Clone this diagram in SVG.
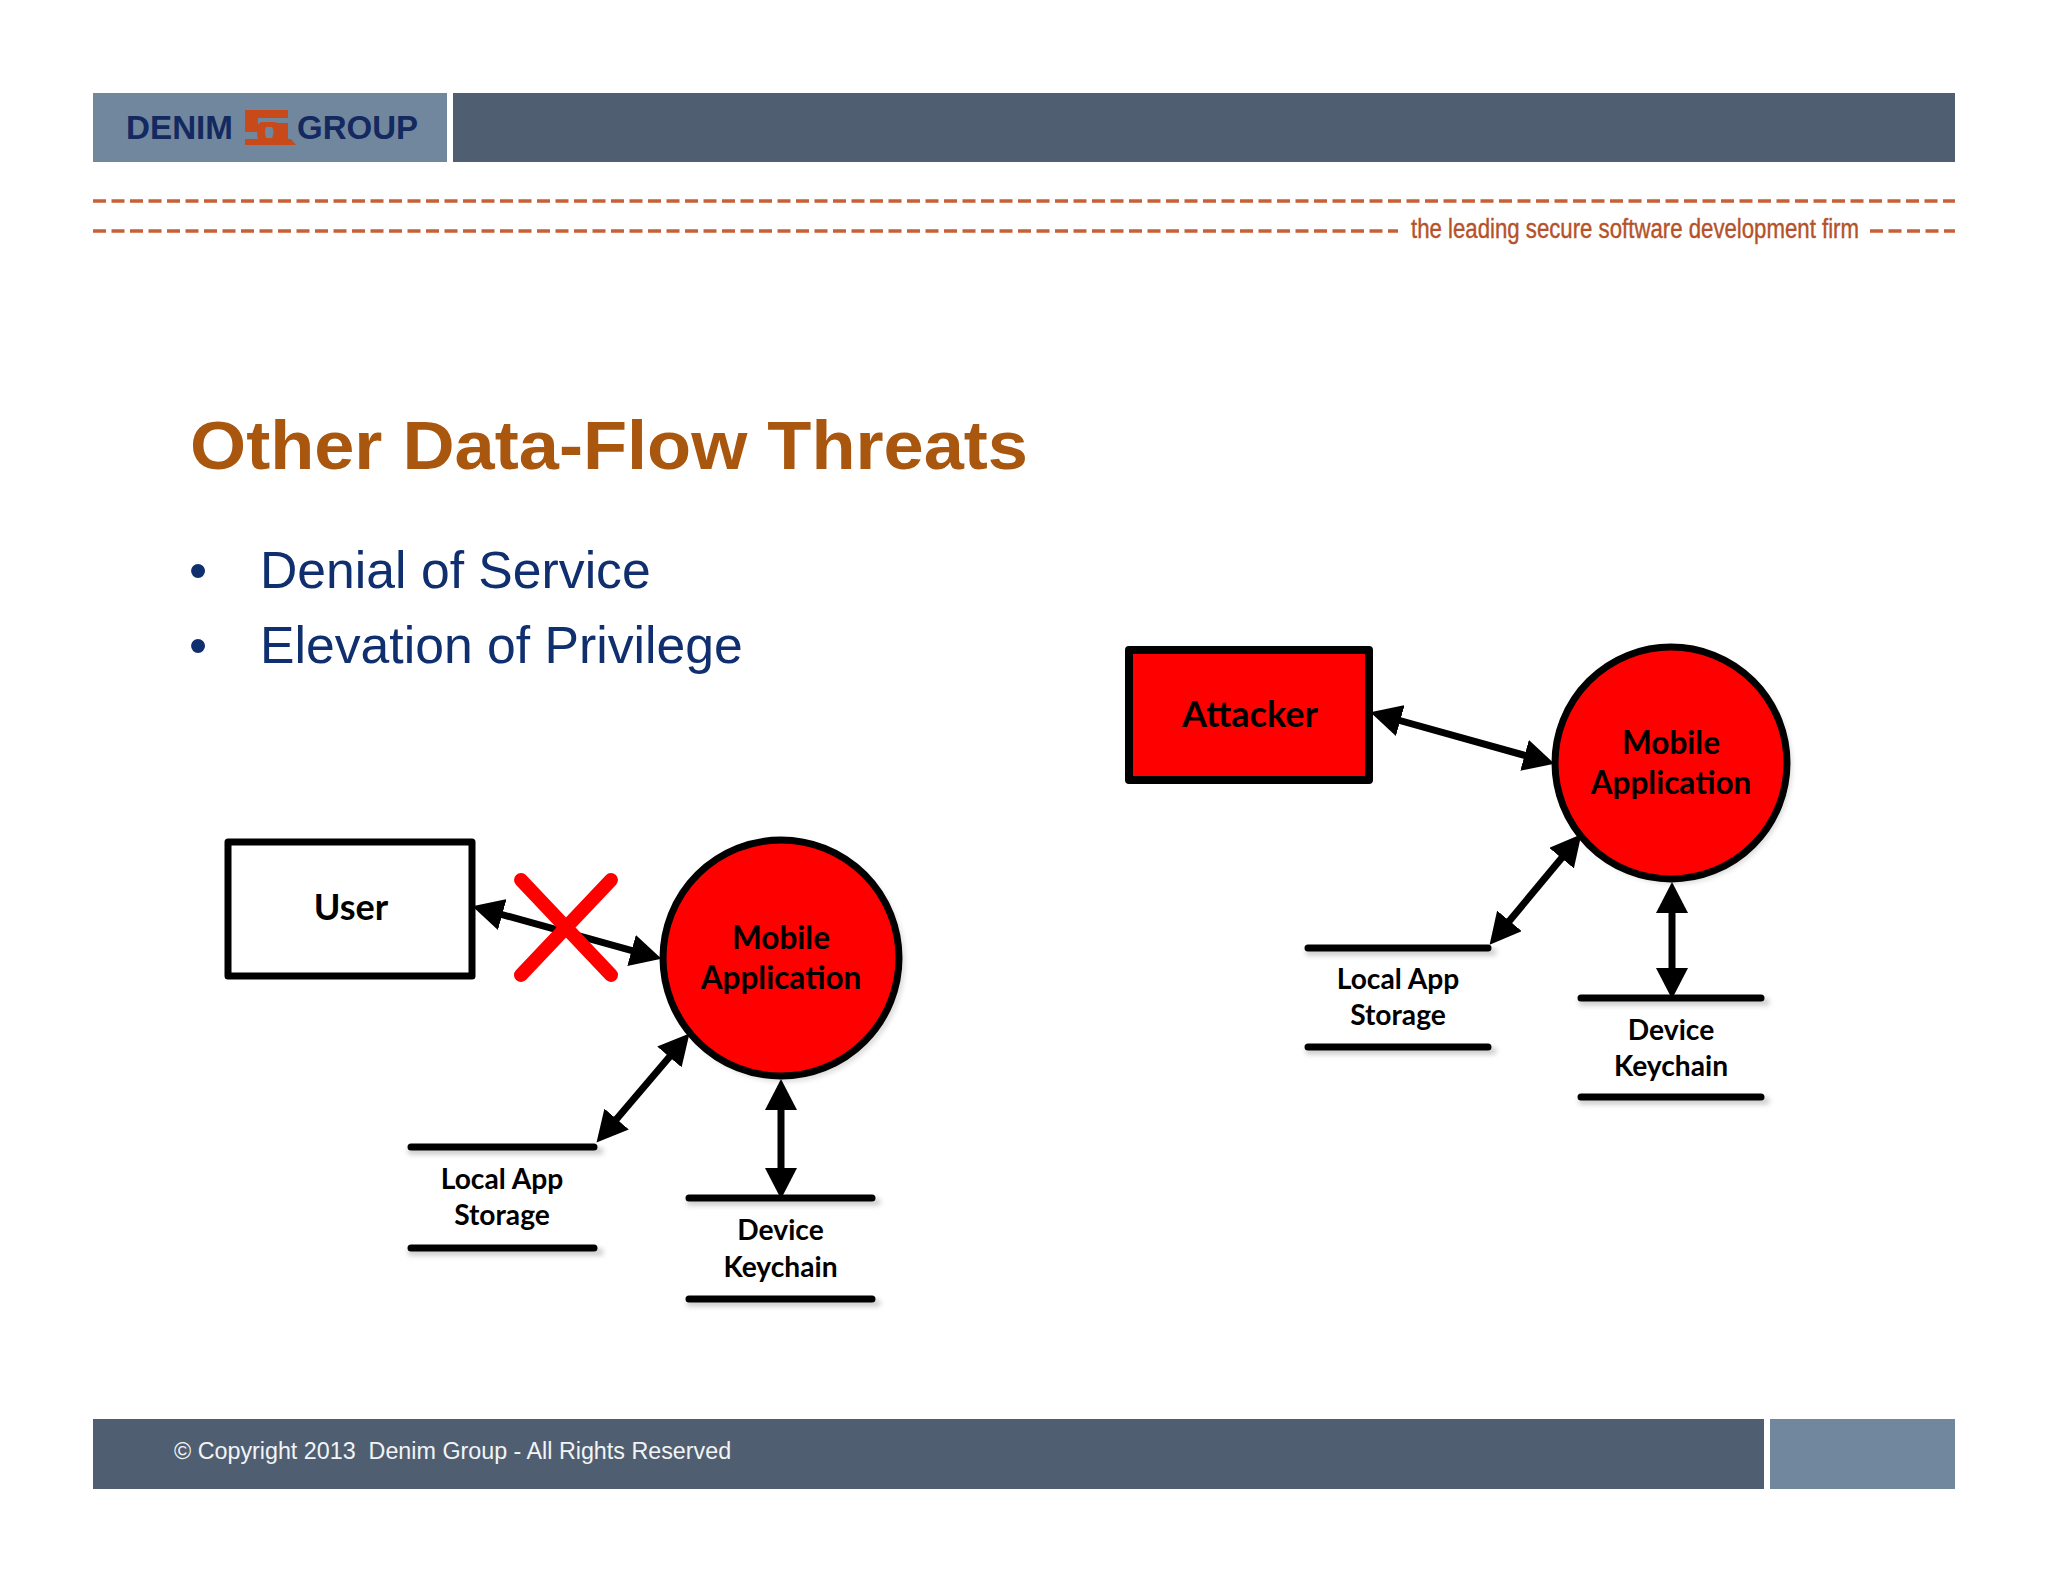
<svg xmlns="http://www.w3.org/2000/svg" width="2048" height="1582" viewBox="0 0 2048 1582">
<style>
.dark{fill:#4f5f71}.light{fill:#71879e}
.dash{stroke:#c95f35;stroke-width:3.5;stroke-dasharray:13 5.5;fill:none}
.flow{stroke:#000;stroke-width:7;fill:none;marker-start:url(#head);marker-end:url(#head)}
.store{stroke:#000;stroke-width:7;stroke-linecap:round;fill:none}
.shadow{stroke:#ccc;stroke-width:7;stroke-linecap:round;fill:none;filter:url(#soft)}
.box{stroke:#000;stroke-linejoin:round}
.bub{fill:#f00;stroke:#000;stroke-width:7}
.lab{font-family:"Lato","Open Sans",sans-serif;font-weight:700;fill:#000;text-anchor:middle}
.big{font-size:31.5px}.name{font-size:36px}.small{font-size:28.2px}
.bul{font-family:"Liberation Sans",Arial,sans-serif;font-size:51.7px;fill:#0f2f6e}
.logo{font-family:"Liberation Sans",Arial,sans-serif;font-weight:700;font-size:33px;fill:#14295f}
</style>
<defs>
<marker id="head" markerUnits="userSpaceOnUse" markerWidth="31" markerHeight="32" refX="21" refY="16" orient="auto-start-reverse"><path d="M0,0L31,16L0,32z" fill="#000"/></marker>
<filter id="soft" x="-20%" y="-20%" width="140%" height="140%"><feGaussianBlur stdDeviation="2.5"/></filter>
</defs>
<rect width="2048" height="1582" fill="#fff"/>
<g id="header">
<rect class="light" x="93" y="93" width="354" height="69"/>
<rect class="dark" x="453" y="93" width="1502" height="69"/>
<text class="logo" x="126" y="139" textLength="107" lengthAdjust="spacingAndGlyphs">DENIM</text>
<text class="logo" x="297" y="139" textLength="121" lengthAdjust="spacingAndGlyphs">GROUP</text>
<g id="logo-mark" fill="#c8491a">
<path d="M245 110H288V118H258V132H245Z"/>
<path d="M262 122H274Q282 122 282 132Q282 142 274 142H262Q257 142 257 132Q257 122 262 122ZM266 127Q264 132 266 138H272Q275 132 272 127Z" fill-rule="evenodd"/>
<path d="M276 123H288V140H276Z"/>
<path d="M245 139H291L296 145H245Z"/>
</g>
<path class="dash" d="M93 201H1955"/>
<path class="dash" d="M93 231H1398"/>
<path class="dash" d="M1870 231H1955"/>
<text x="1411" y="238" font-family="Liberation Sans, Arial, sans-serif" font-size="27" fill="#b5522a" stroke="#b5522a" stroke-width=".4" textLength="448" lengthAdjust="spacingAndGlyphs">the leading secure software development firm</text>
</g>
<g id="title">
<text x="190" y="469" font-family="Liberation Sans, Arial, sans-serif" font-weight="700" font-size="69" fill="#a9560e" textLength="838" lengthAdjust="spacingAndGlyphs">Other Data-Flow Threats</text>
</g>
<g id="bullets">
<text class="bul" x="189" y="588">•</text><text class="bul" x="260" y="588">Denial of Service</text>
<text class="bul" x="189" y="663">•</text><text class="bul" x="260" y="663">Elevation of Privilege</text>
</g>
<g id="shadows">
<circle cx="785" cy="962" r="120" fill="#ddd" filter="url(#soft)"/>
<circle cx="1675" cy="767" r="117" fill="#ddd" filter="url(#soft)"/>
<path class="shadow" d="M411 1151H600M411 1252H600M690 1202H877M690 1303H877M1309 952H1493M1309 1051H1493M1582 1002H1766M1582 1101H1766"/>
</g>
<g id="connectors">
<path class="flow" d="M482 909L651.8 956.1"/>
<path class="flow" d="M603 1135L683 1041"/>
<path class="flow" d="M781 1089V1189"/>
<path class="flow" d="M1380 715L1544.8 761"/>
<path class="flow" d="M1496 937L1575 842"/>
<path class="flow" d="M1672 892V989"/>
</g>
<g id="cross"><path d="M521 880L611 975M611 880L521 975" stroke="#f00" stroke-width="14" stroke-linecap="round" fill="none"/></g>
<g id="user"><rect class="box" x="228" y="842" width="244" height="134" fill="#fff" stroke-width="7"/><text class="lab name" x="351" y="920">User</text></g>
<g id="mobile-left"><circle class="bub" cx="781" cy="958" r="118"/><text class="lab big" x="781" y="949">Mobile</text><text class="lab big" x="781" y="989">Application</text></g>
<g id="local-left"><path class="store" d="M411 1147H594M411 1248H594"/><text class="lab small" x="502" y="1189">Local App</text><text class="lab small" x="502" y="1225">Storage</text></g>
<g id="device-left"><path class="store" d="M689 1198H872M689 1299H872"/><text class="lab small" x="780.500" y="1240">Device</text><text class="lab small" x="780.500" y="1277">Keychain</text></g>
<g id="attacker"><rect class="box" x="1129" y="650" width="240" height="130" fill="#f00" stroke-width="8"/><text class="lab name" x="1250" y="727">Attacker</text></g>
<g id="mobile-right"><circle class="bub" cx="1671" cy="763" r="116"/><text class="lab big" x="1671" y="754">Mobile</text><text class="lab big" x="1671" y="794">Application</text></g>
<g id="local-right"><path class="store" d="M1308 948H1488M1308 1047H1488"/><text class="lab small" x="1398" y="989">Local App</text><text class="lab small" x="1398" y="1025">Storage</text></g>
<g id="device-right"><path class="store" d="M1581 998H1761M1581 1097H1761"/><text class="lab small" x="1671" y="1040">Device</text><text class="lab small" x="1671" y="1076">Keychain</text></g>
<g id="footer">
<rect class="dark" x="93" y="1419" width="1671" height="70"/>
<rect class="light" x="1770" y="1419" width="185" height="70"/>
<text x="174" y="1459" font-family="Liberation Sans, Arial, sans-serif" font-size="23.3" fill="#f2f4f6" xml:space="preserve">© Copyright 2013  Denim Group - All Rights Reserved</text>
</g>
</svg>
